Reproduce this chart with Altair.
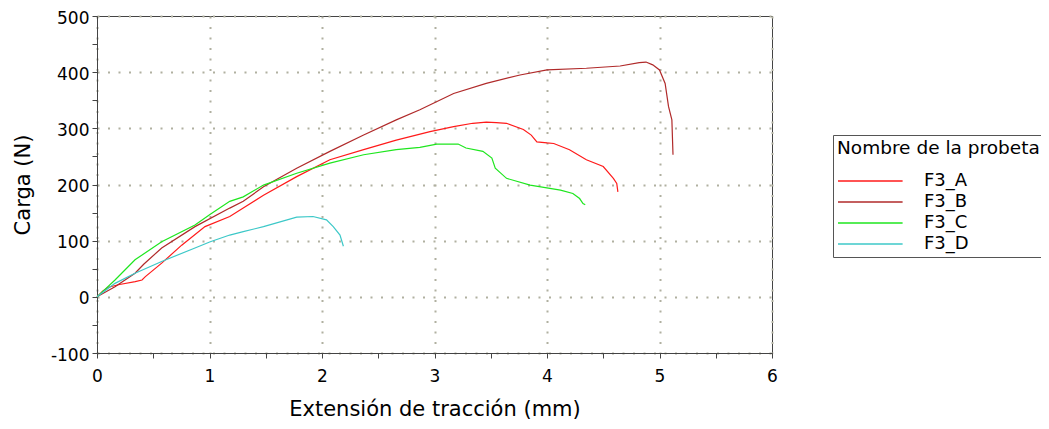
import altair as alt
import pandas as pd

SERIES = ["F3_A", "F3_B", "F3_C", "F3_D"]
COLORS = ["#ff1a1a", "#b02a2a", "#1ee61e", "#3cc8c8"]

A_X = [0, 0.05, 0.10, 0.20, 0.34, 0.40, 0.43, 0.575, 0.753, 0.96, 1.18, 1.30, 1.48, 1.775,
       2.07, 2.37, 2.66, 2.96, 3.17, 3.34, 3.46, 3.55, 3.64, 3.79, 3.86, 3.91, 4.0, 4.06,
       4.20, 4.35, 4.50, 4.59, 4.62, 4.63]
A_Y = [0, 10, 17, 22, 27, 30, 36, 60, 92, 125, 143, 158, 181, 214,
       244, 262, 279, 294, 303, 309, 311, 310, 309, 298, 288, 276, 274, 273,
       262, 244, 232, 211, 202, 187]

B_X = [0, 0.16, 0.338, 0.415, 0.575, 0.871, 1.18, 1.30, 1.48, 1.775, 2.07, 2.37, 2.66, 2.87,
       3.17, 3.46, 3.76, 4.0, 4.35, 4.65, 4.82, 4.88, 4.94, 5.0, 5.05, 5.08, 5.11, 5.12]
B_Y = [0, 18, 42, 58, 87, 125, 158, 170, 196, 229, 259, 288, 315, 333,
       362, 380, 395, 404, 407, 411, 417, 418, 413, 404, 380, 339, 315, 253]

C_X = [0, 0.16, 0.338, 0.575, 0.871, 1.007, 1.18, 1.30, 1.48, 1.775, 2.07, 2.37, 2.66, 2.87,
       3.02, 3.21, 3.28, 3.43, 3.51, 3.54, 3.64, 3.85, 4.12, 4.23, 4.29, 4.32, 4.34]
C_Y = [0, 30, 66, 98, 128, 147, 170, 178, 199, 220, 238, 253, 262, 266,
       272, 272, 265, 259, 247, 229, 211, 199, 190, 184, 175, 166, 164]

D_X = [0, 0.16, 0.338, 0.575, 0.871, 1.007, 1.18, 1.30, 1.48, 1.775, 1.92, 2.04, 2.10, 2.16, 2.19]
D_Y = [0, 24, 42, 63, 87, 98, 110, 116, 125, 142, 143, 137, 125, 110, 90]

X_TICKS = [0, 0.5, 1, 1.5, 2, 2.5, 3, 3.5, 4, 4.5, 5, 5.5, 6]
Y_TICKS = [-100, -50, 0, 50, 100, 150, 200, 250, 300, 350, 400, 450, 500]

rows = []
for name, xs, ys in zip(SERIES, [A_X, B_X, C_X, D_X], [A_Y, B_Y, C_Y, D_Y]):
    for i, (xv, yv) in enumerate(zip(xs, ys)):
        rows.append({"probeta": name, "ext": xv, "carga": yv, "idx": i})
df = pd.DataFrame(rows)

FONT = "DejaVu Sans"
grid_op_x = {"condition": {"test": "datum.value % 1 === 0", "value": 1}, "value": 0}
grid_op_y = {"condition": {"test": "datum.value % 100 === 0", "value": 1}, "value": 0}

chart = alt.Chart(df).mark_line(strokeWidth=1.2).encode(
    x=alt.X("ext:Q",
            scale=alt.Scale(domain=[0, 6], nice=False, zero=False),
            axis=alt.Axis(values=X_TICKS,
                          labelExpr="datum.value % 1 === 0 ? toString(datum.value) : ''",
                          title="Extensión de tracción (mm)",
                          grid=True, gridOpacity=grid_op_x,
                          gridDash=[2, 8.5], gridWidth=2, gridColor="#b0b0a0",
                          tickSize=5, labelPadding=10, titlePadding=14,
                          labelFlush=False)),
    y=alt.Y("carga:Q",
            scale=alt.Scale(domain=[-100, 500], nice=False, zero=False),
            axis=alt.Axis(values=Y_TICKS,
                          labelExpr="datum.value % 100 === 0 ? toString(datum.value) : ''",
                          title="Carga (N)",
                          grid=True, gridOpacity=grid_op_y,
                          gridDash=[2, 8.5], gridWidth=2, gridColor="#b0b0a0",
                          tickSize=5, labelPadding=3, titlePadding=17,
                          labelOffset=2, labelFlush=False)),
    color=alt.Color("probeta:N",
                    scale=alt.Scale(domain=SERIES, range=COLORS),
                    legend=alt.Legend(title="Nombre de la probeta",
                                      orient="none", legendX=736, legendY=119,
                                      symbolType="M-1,0H5.8", symbolSize=361,
                                      symbolStrokeWidth=1.5,
                                      labelOffset=66, rowPadding=1,
                                      padding=4, titlePadding=13,
                                      titleLimit=400, labelLimit=300,
                                      strokeColor="#555555", fillColor="white")),
    order="idx:Q",
).properties(
    width=675, height=337,
    autosize=alt.AutoSizeParams(type="none"),
    padding={"left": 89, "top": 8, "right": 269, "bottom": 68},
).configure_view(
    stroke="#444444", strokeWidth=1
).configure_axis(
    domainColor="#444444", tickColor="#444444",
    labelFont=FONT, titleFont=FONT, labelFontSize=17, titleFontSize=21,
    labelColor="black", titleColor="black", titleFontWeight="normal",
).configure_legend(
    labelFont=FONT, titleFont=FONT, labelFontSize=18, titleFontSize=18.5,
    labelColor="black", titleColor="black", titleFontWeight="normal",
)

chart.save("out.html", embed_options={"renderer": "svg", "actions": False})
